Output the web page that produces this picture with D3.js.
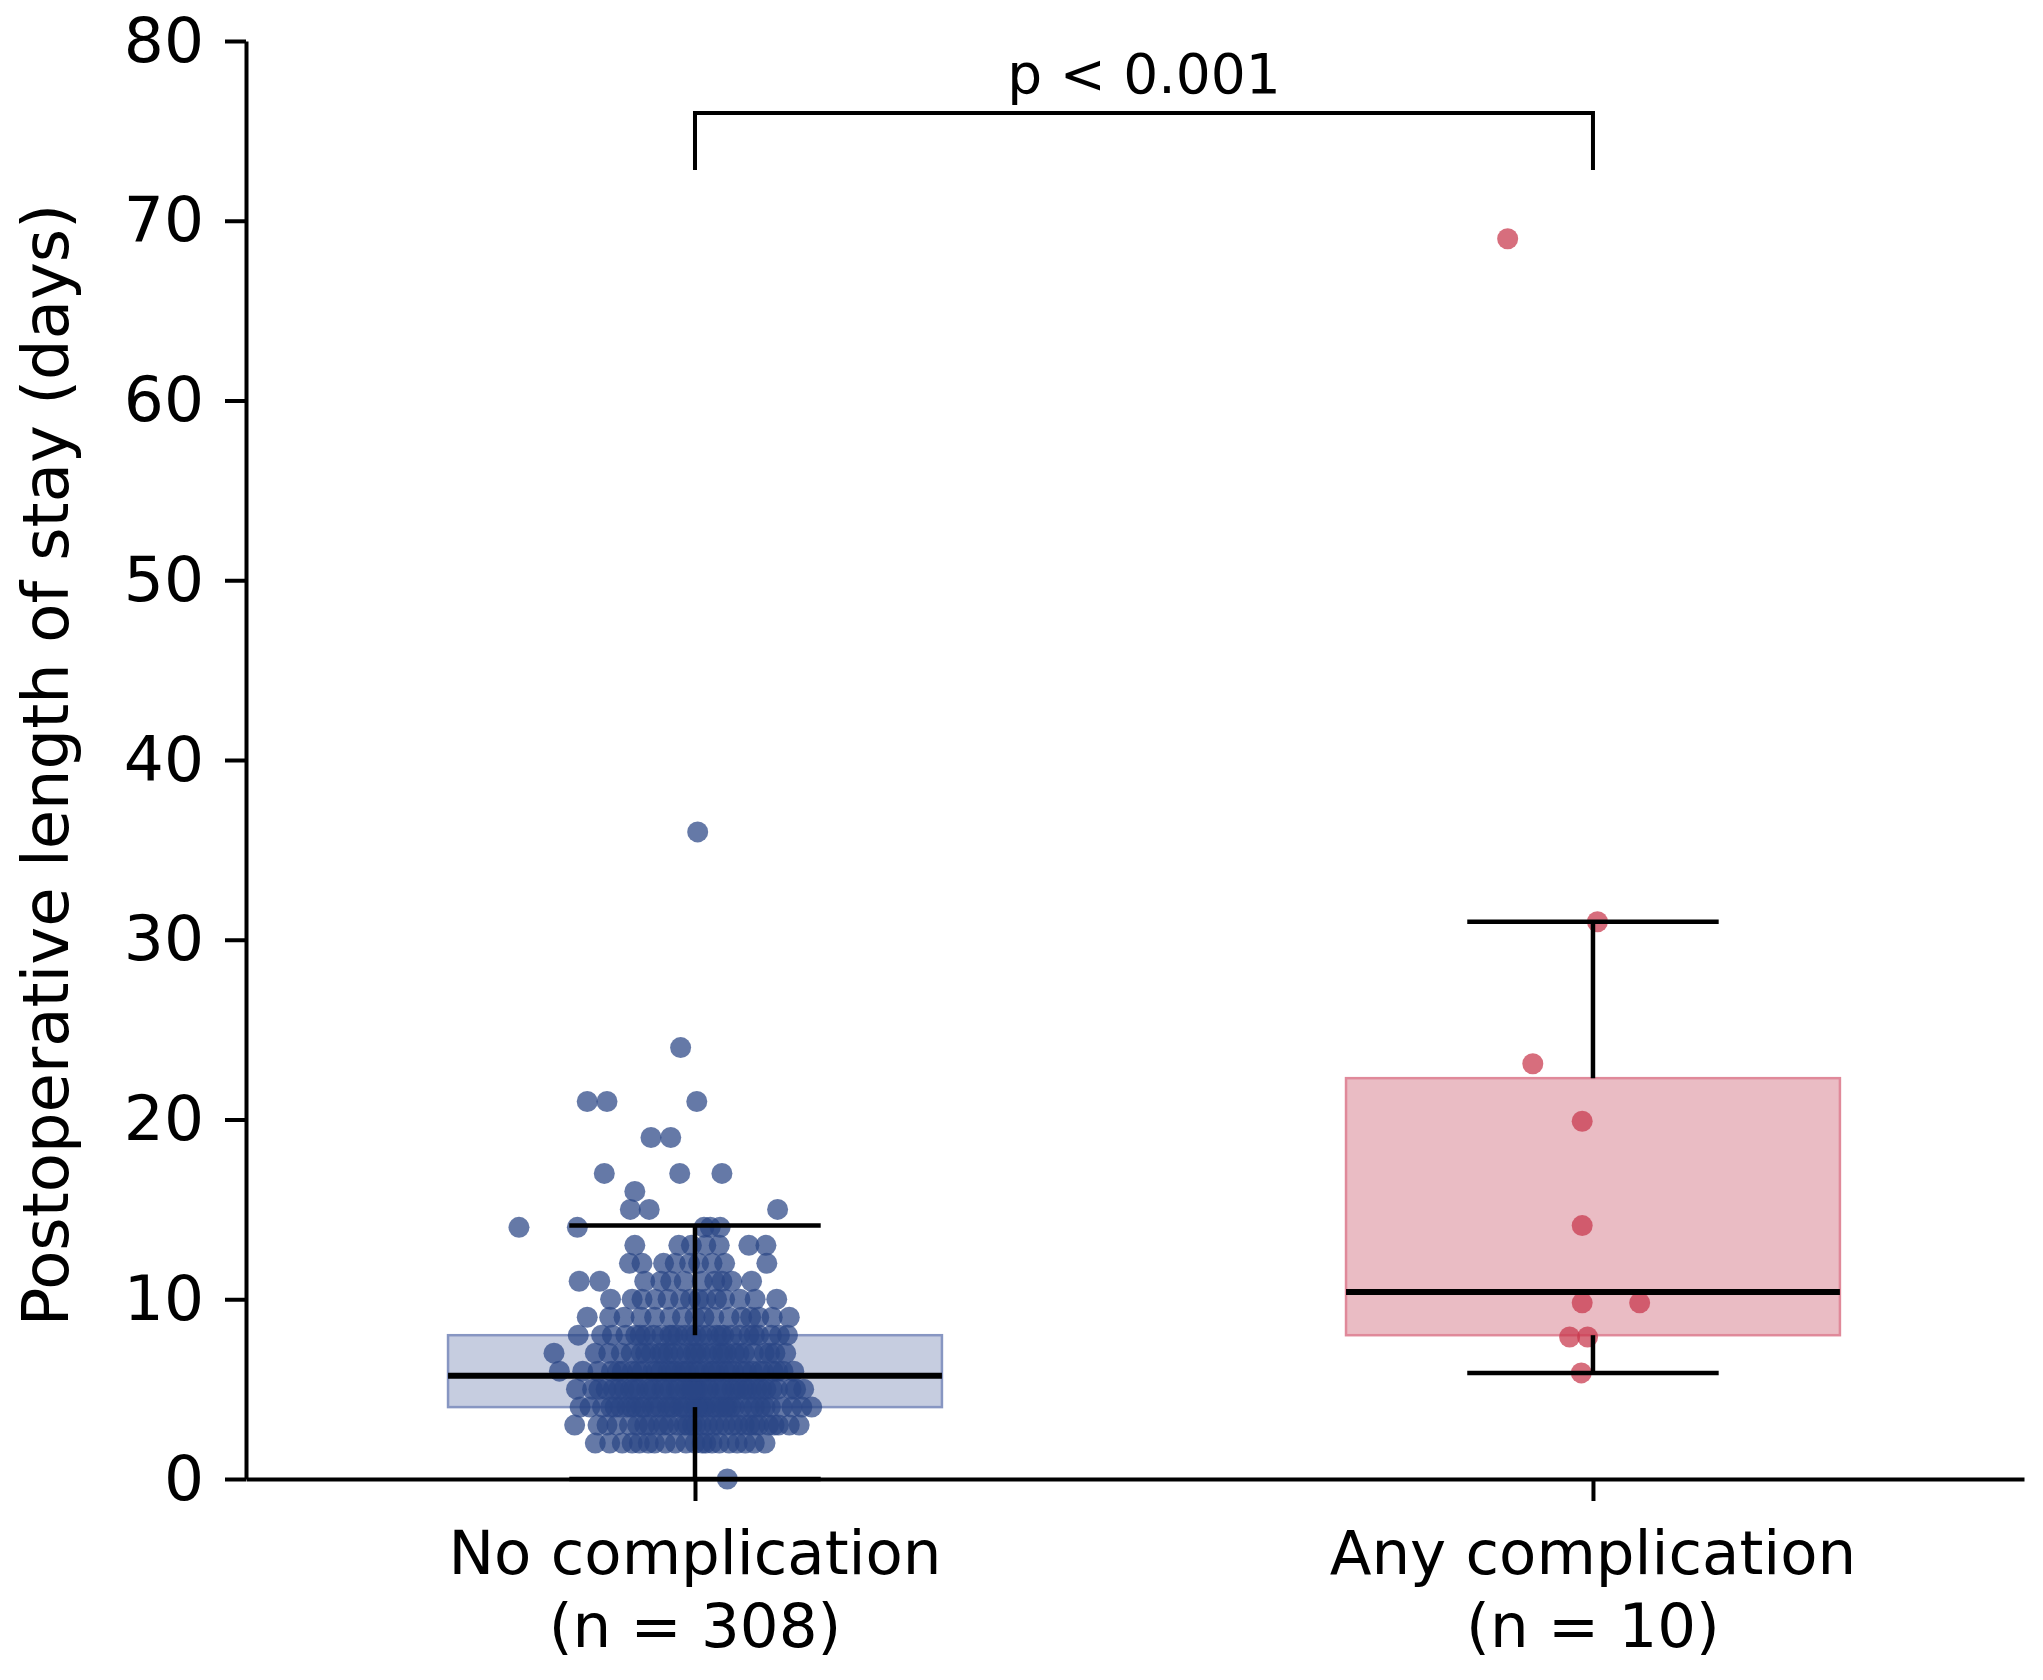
<!DOCTYPE html>
<html>
<head>
<meta charset="utf-8">
<title>Postoperative length of stay by complication</title>
<script src="https://cdn.jsdelivr.net/npm/d3@7"></script>
<style>
    html, body { margin: 0; padding: 0; background: #ffffff; }
    #chart { width: 2043px; height: 1680px; }
    text { font-family: "DejaVu Sans", sans-serif; fill: #000; }
</style>
</head>
<body>
<div id="chart"></div>
<script>
// Categories and group sizes
const categories = ['No complication', 'Any complication'];
const groupSizes = [308, 10];

// Box summaries (days)
const boxQ1 = [4, 8];
const boxMedian = [5.75, 10.4];
const boxQ3 = [8, 22.3];
const whiskerLow = [0, 5.9];
const whiskerHigh = [14.1, 31];

// No complication: stay levels and the horizontal jitter of every point at that level
const noCompLevels = [0, 2, 3, 4, 5, 6, 7, 8, 9, 10, 11, 12, 13, 14, 15, 16, 17, 19, 21, 24, 36];
const noCompJitter = [
    [0.036],
    [-0.111, -0.081, -0.062, -0.045, -0.022, 0.000, 0.019, 0.038, 0.056, 0.078,
     -0.095, -0.070, -0.033, -0.010, 0.008, 0.027, 0.047, 0.066, -0.052, 0.012],
    [-0.134, -0.073, -0.051, 0.116, 0.082, -0.012, 0.034, -0.098, 0.061, 0.007,
     -0.029, 0.093, -0.064, 0.021, 0.048, -0.041, 0.105, -0.003, -0.087, 0.071,
     0.014, -0.019, 0.042, -0.056, 0.088, 0.027, -0.108, 0.055, -0.035, 0.001,
     0.067, -0.008],
    [-0.128, 0.130, -0.117, 0.119, -0.103, 0.097, -0.089, 0.084, -0.076, 0.073,
     -0.066, 0.061, -0.057, 0.052, -0.048, 0.044, -0.039, 0.036, -0.031, 0.028,
     -0.024, 0.019, -0.017, 0.012, -0.009, 0.005, -0.002, 0.108, -0.094, 0.078,
     -0.071, 0.066, -0.044, 0.040, -0.027, 0.023, -0.013, 0.009, 0.002, -0.060,
     0.033, -0.083],
    [-0.132, 0.121, -0.114, 0.107, -0.099, 0.092, -0.085, 0.079, -0.072, 0.069,
     -0.063, 0.058, -0.054, 0.049, -0.046, 0.041, -0.037, 0.033, -0.028, 0.025,
     -0.021, 0.016, -0.011, 0.009, -0.006, 0.003, 0.000, 0.112, -0.107, 0.086,
     -0.079, 0.063, -0.050, 0.045, -0.034, 0.030, -0.018, 0.014, -0.003, 0.054,
     -0.091, 0.074, -0.068],
    [-0.151, -0.125, 0.110, -0.108, 0.098, -0.093, 0.087, -0.081, 0.076, -0.070,
     0.064, -0.059, 0.053, -0.047, 0.043, -0.038, 0.034, -0.030, 0.026, -0.022,
     0.018, -0.015, 0.011, -0.007, 0.004, 0.000, 0.072, -0.064, 0.057, -0.043,
     0.038, -0.026, 0.021, -0.011, 0.092, -0.086],
    [-0.157, -0.111, 0.101, -0.096, 0.089, -0.082, 0.077, -0.071, 0.065, -0.060,
     0.055, -0.049, 0.044, -0.039, 0.035, -0.030, 0.027, -0.024, 0.020, -0.016,
     0.013, -0.009, 0.006, -0.002, 0.001, 0.049, -0.055, 0.031, -0.036, 0.083],
    [-0.130, 0.103, -0.104, 0.094, -0.092, 0.085, -0.077, 0.071, -0.066, 0.060,
     -0.055, 0.050, -0.046, 0.041, -0.037, 0.032, -0.028, 0.024, -0.019, 0.015,
     -0.011, 0.008, -0.004, 0.001, 0.066, -0.061, 0.029, -0.025],
    [-0.120, -0.079, -0.045, -0.014, 0.010, 0.052, 0.071, 0.105,
     -0.060, -0.028, 0.021, 0.038, 0.086, -0.095, 0.000, 0.062],
    [-0.094, -0.059, -0.030, -0.005, 0.033, 0.067, -0.044, 0.012, 0.050, -0.016,
     0.024, 0.091, 0.004, -0.070],
    [-0.129, -0.106, -0.056, -0.038, -0.012, 0.008, 0.022, 0.041, 0.063, -0.027, 0.030],
    [-0.073, -0.059, -0.035, -0.006, 0.004, 0.019, 0.033, 0.080, -0.022],
    [-0.067, -0.018, 0.027, 0.060, 0.079, -0.004, 0.012],
    [-0.196, -0.131, 0.010, 0.017, 0.028],
    [-0.072, -0.051, 0.092],
    [-0.067],
    [-0.101, -0.017, 0.030],
    [-0.049, -0.027],
    [-0.120, -0.098, 0.002],
    [-0.016],
    [0.003]
];

// Any complication: the ten patients
const anyCompStay = [69, 31, 23.1, 19.9, 14.1, 9.8, 9.8, 7.9, 7.9, 5.9];
const anyCompJitter = [-0.095, 0.005, -0.067, -0.012, -0.012, -0.012, 0.052, -0.026, -0.006, -0.013];

const yTicks = [0, 10, 20, 30, 40, 50, 60, 70, 80];
const pLabel = 'p < 0.001';

class BoxStripChart {
    constructor(containerId) {
        this.containerId = containerId;
        this.width = 2043;
        this.height = 1680;
        this.plot = { left: 246, right: 2024, top: 41, bottom: 1479 };

        this.dotColor = ['#2a4585', '#c8364b'];
        this.boxFill = ['#c6cde0', '#eabcc4'];
        this.boxStroke = ['#8796c2', '#e0899a'];
    }

    buildPoints() {
        const pts = [];
        noCompLevels.forEach((v, i) => {
            noCompJitter[i].forEach(j => pts.push({ group: 0, value: v, jitter: j }));
        });
        anyCompStay.forEach((v, i) => pts.push({ group: 1, value: v, jitter: anyCompJitter[i] }));
        this.points = pts;
    }

    init() {
        const container = d3.select(`#${this.containerId}`);
        container.selectAll('*').remove();

        this.svg = container.append('svg')
            .attr('width', this.width)
            .attr('height', this.height)
            .attr('viewBox', `0 0 ${this.width} ${this.height}`);

        this.svg.append('rect')
            .attr('width', this.width)
            .attr('height', this.height)
            .attr('fill', '#ffffff');

        this.x = d3.scaleLinear().domain([-0.5, 1.48]).range([this.plot.left, this.plot.right]);
        this.y = d3.scaleLinear().domain([0, 80]).range([this.plot.bottom, this.plot.top]);
    }

    render() {
        const x = this.x, y = this.y;
        const boxWidth = 0.55;
        const capWidth = 0.28;
        const groups = categories.map((c, i) => ({ i, name: c }));

        // Boxes (drawn first so the points sit on top)
        this.svg.append('g').selectAll('rect')
            .data(groups)
            .join('rect')
            .attr('x', d => x(d.i - boxWidth / 2))
            .attr('y', d => y(boxQ3[d.i]))
            .attr('width', x(boxWidth) - x(0))
            .attr('height', d => y(boxQ1[d.i]) - y(boxQ3[d.i]))
            .attr('fill', d => this.boxFill[d.i])
            .attr('stroke', d => this.boxStroke[d.i])
            .attr('stroke-width', 2.5);

        // Points
        this.svg.append('g').selectAll('circle')
            .data(this.points)
            .join('circle')
            .attr('cx', d => x(d.group + d.jitter))
            .attr('cy', d => y(d.value))
            .attr('r', 10.5)
            .attr('fill', d => this.dotColor[d.group])
            .attr('fill-opacity', 0.72);

        // Whiskers, caps and medians
        const lines = this.svg.append('g')
            .attr('stroke', '#000')
            .attr('stroke-linecap', 'butt');

        lines.selectAll('.whisker-up')
            .data(groups)
            .join('line')
            .attr('x1', d => x(d.i)).attr('x2', d => x(d.i))
            .attr('y1', d => y(boxQ3[d.i])).attr('y2', d => y(whiskerHigh[d.i]))
            .attr('stroke-width', 4.5);

        lines.selectAll('.whisker-down')
            .data(groups)
            .join('line')
            .attr('x1', d => x(d.i)).attr('x2', d => x(d.i))
            .attr('y1', d => y(boxQ1[d.i])).attr('y2', d => y(whiskerLow[d.i]))
            .attr('stroke-width', 4.5);

        [whiskerHigh, whiskerLow].forEach(arr => {
            lines.append('g').selectAll('line')
                .data(groups)
                .join('line')
                .attr('x1', d => x(d.i - capWidth / 2)).attr('x2', d => x(d.i + capWidth / 2))
                .attr('y1', d => y(arr[d.i])).attr('y2', d => y(arr[d.i]))
                .attr('stroke-width', 4.5);
        });

        lines.append('g').selectAll('line')
            .data(groups)
            .join('line')
            .attr('x1', d => x(d.i - boxWidth / 2)).attr('x2', d => x(d.i + boxWidth / 2))
            .attr('y1', d => y(boxMedian[d.i])).attr('y2', d => y(boxMedian[d.i]))
            .attr('stroke-width', 6);

        // Y axis
        const yAxis = this.svg.append('g')
            .attr('transform', `translate(${this.plot.left},0)`)
            .call(d3.axisLeft(y).tickValues(yTicks).tickSize(21).tickSizeOuter(0).tickPadding(21));
        yAxis.select('.domain').attr('stroke', '#000').attr('stroke-width', 4);
        yAxis.selectAll('.tick line').attr('stroke', '#000').attr('stroke-width', 4);
        yAxis.selectAll('.tick text')
            .style('font-family', '"DejaVu Sans", sans-serif')
            .style('font-size', '63px')
            .attr('fill', '#000');

        // X axis
        const xAxis = this.svg.append('g')
            .attr('transform', `translate(0,${this.plot.bottom})`)
            .call(d3.axisBottom(x).tickValues([0, 1]).tickSize(22).tickSizeOuter(0).tickFormat(''));
        xAxis.select('.domain').attr('stroke', '#000').attr('stroke-width', 4);
        xAxis.selectAll('.tick line').attr('stroke', '#000').attr('stroke-width', 4);

        const xLabels = this.svg.append('g').selectAll('text')
            .data(groups)
            .join('text')
            .attr('text-anchor', 'middle')
            .style('font-size', '61px');
        xLabels.append('tspan')
            .attr('x', d => x(d.i)).attr('y', 1574)
            .text(d => d.name);
        xLabels.append('tspan')
            .attr('x', d => x(d.i)).attr('y', 1647)
            .text(d => `(n = ${groupSizes[d.i]})`);

        // Y axis title
        this.svg.append('text')
            .attr('text-anchor', 'middle')
            .attr('transform', `translate(68,${(this.plot.top + this.plot.bottom) / 2 + 5}) rotate(-90)`)
            .style('font-size', '64px')
            .text('Postoperative length of stay (days)');

        // Significance bracket
        const bracketY = 113, bracketDrop = 57;
        this.svg.append('path')
            .attr('d', `M${x(0)},${bracketY + bracketDrop}V${bracketY}H${x(1)}V${bracketY + bracketDrop}`)
            .attr('fill', 'none')
            .attr('stroke', '#000')
            .attr('stroke-width', 4);
        this.svg.append('text')
            .attr('x', (x(0) + x(1)) / 2)
            .attr('y', 93)
            .attr('text-anchor', 'middle')
            .style('font-size', '55px')
            .text(pLabel);
    }
}

const chart = new BoxStripChart('chart');
chart.buildPoints();
chart.init();
chart.render();
</script>
</body>
</html>
